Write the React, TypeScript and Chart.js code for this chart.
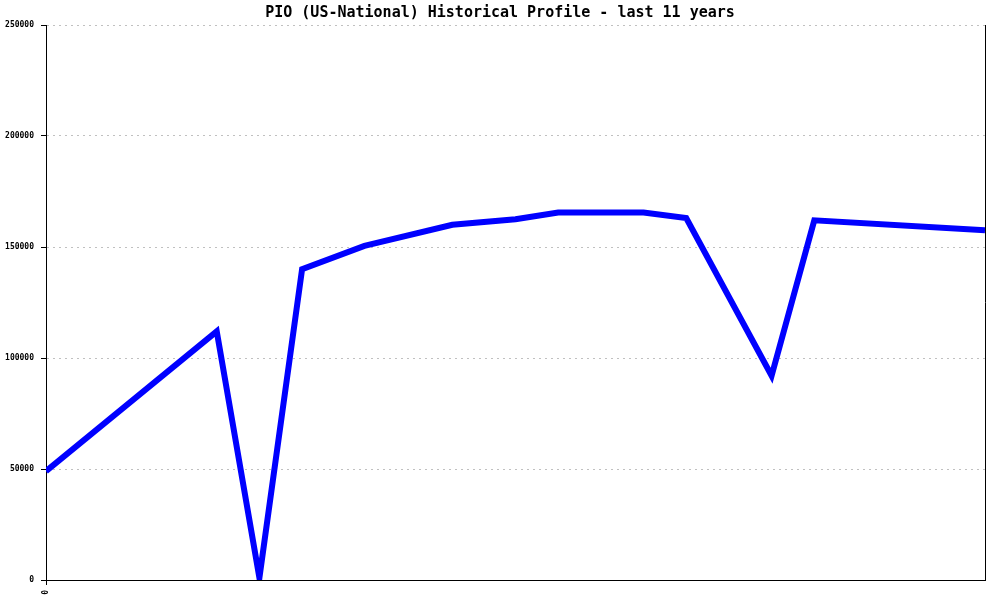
import React, { useEffect, useRef } from "react";
import { Chart, registerables } from "chart.js";

Chart.register(...registerables);

const titleText = "PIO (US-National) Historical Profile - last 11 years";
const yearPositions = [0, 2, 2.5, 3, 3.73, 4.76, 5.5, 6.0, 7.0, 7.5, 8.5, 9.0, 11];
const seriesValues = [49000, 112000, 1000, 140000, 150500, 160000, 162500, 165500, 165500, 163000, 92000, 162000, 157500];
const xTickLabels = ["0"];
const xTickValues = [0];

const rightBorder = {
  id: "rightBorder",
  afterDraw(chart: any) {
    const { ctx, chartArea } = chart;
    ctx.save();
    ctx.strokeStyle = "#000";
    ctx.lineWidth = 1;
    ctx.beginPath();
    ctx.moveTo(chartArea.right + 0.5, chartArea.top);
    ctx.lineTo(chartArea.right + 0.5, chartArea.bottom);
    ctx.stroke();
    ctx.restore();
  },
};

export default function App() {
  const ref = useRef<HTMLCanvasElement>(null);
  useEffect(() => {
    if (!ref.current) return;
    const mono = "'DejaVu Sans Mono', monospace";
    const chart = new Chart(ref.current, {
      type: "line",
      data: {
        datasets: [
          {
            data: yearPositions.map((x, i) => ({ x, y: seriesValues[i] })),
            borderColor: "#0000ff",
            backgroundColor: "#0000ff",
            borderWidth: 6,
            pointRadius: 0,
            tension: 0,
            fill: false,
          },
        ],
      },
      options: {
        animation: false,
        responsive: true,
        maintainAspectRatio: false,
        layout: { padding: 0 },
        plugins: {
          legend: { display: false },
          tooltip: { enabled: false },
          title: {
            display: true,
            text: titleText,
            color: "#000",
            font: { family: mono, size: 15, weight: "bold" },
            padding: { top: 4, bottom: 3 },
          },
        },
        scales: {
          x: {
            type: "linear",
            min: 0,
            max: 11,
            afterFit: (s: any) => {
              s.height = 20;
            },
            afterBuildTicks: (s: any) => {
              s.ticks = xTickValues.map((v) => ({ value: v }));
            },
            ticks: {
              color: "#000",
              font: { family: mono, size: 8, weight: "bold" },
              minRotation: 90,
              maxRotation: 90,
              padding: 5,
              callback: (v: any, i: number) => xTickLabels[i],
            },
            grid: {
              drawOnChartArea: false,
              drawTicks: true,
              tickLength: 5,
              tickColor: "#000",
            },
            border: { display: true, color: "#000", width: 1 },
          },
          y: {
            min: 0,
            max: 250000,
            afterFit: (s: any) => {
              s.width = 46;
            },
            ticks: {
              stepSize: 50000,
              color: "#000",
              font: { family: mono, size: 8, weight: "bold" },
              padding: 7,
              callback: (v: any) => String(v),
            },
            grid: {
              color: "#c0c0c0",
              tickColor: "#000",
              tickBorderDash: [],
              tickLength: 5,
              lineWidth: 1,
            },
            border: { display: true, color: "#000", width: 1, dash: [2, 4] },
          },
          yRight: {
            position: "right",
            display: true,
            min: 0,
            max: 250000,
            afterFit: (s: any) => {
              s.width = 15;
            },
            ticks: { display: false },
            grid: { display: false, drawOnChartArea: false, drawTicks: false },
            border: { display: false },
          },
        },
      },
      plugins: [rightBorder],
    });
    return () => chart.destroy();
  }, []);
  return (
    <div style={{ position: "fixed", left: 0, top: 0, width: 1000, height: 600, background: "#fff" }}>
      <canvas ref={ref} />
    </div>
  );
}
